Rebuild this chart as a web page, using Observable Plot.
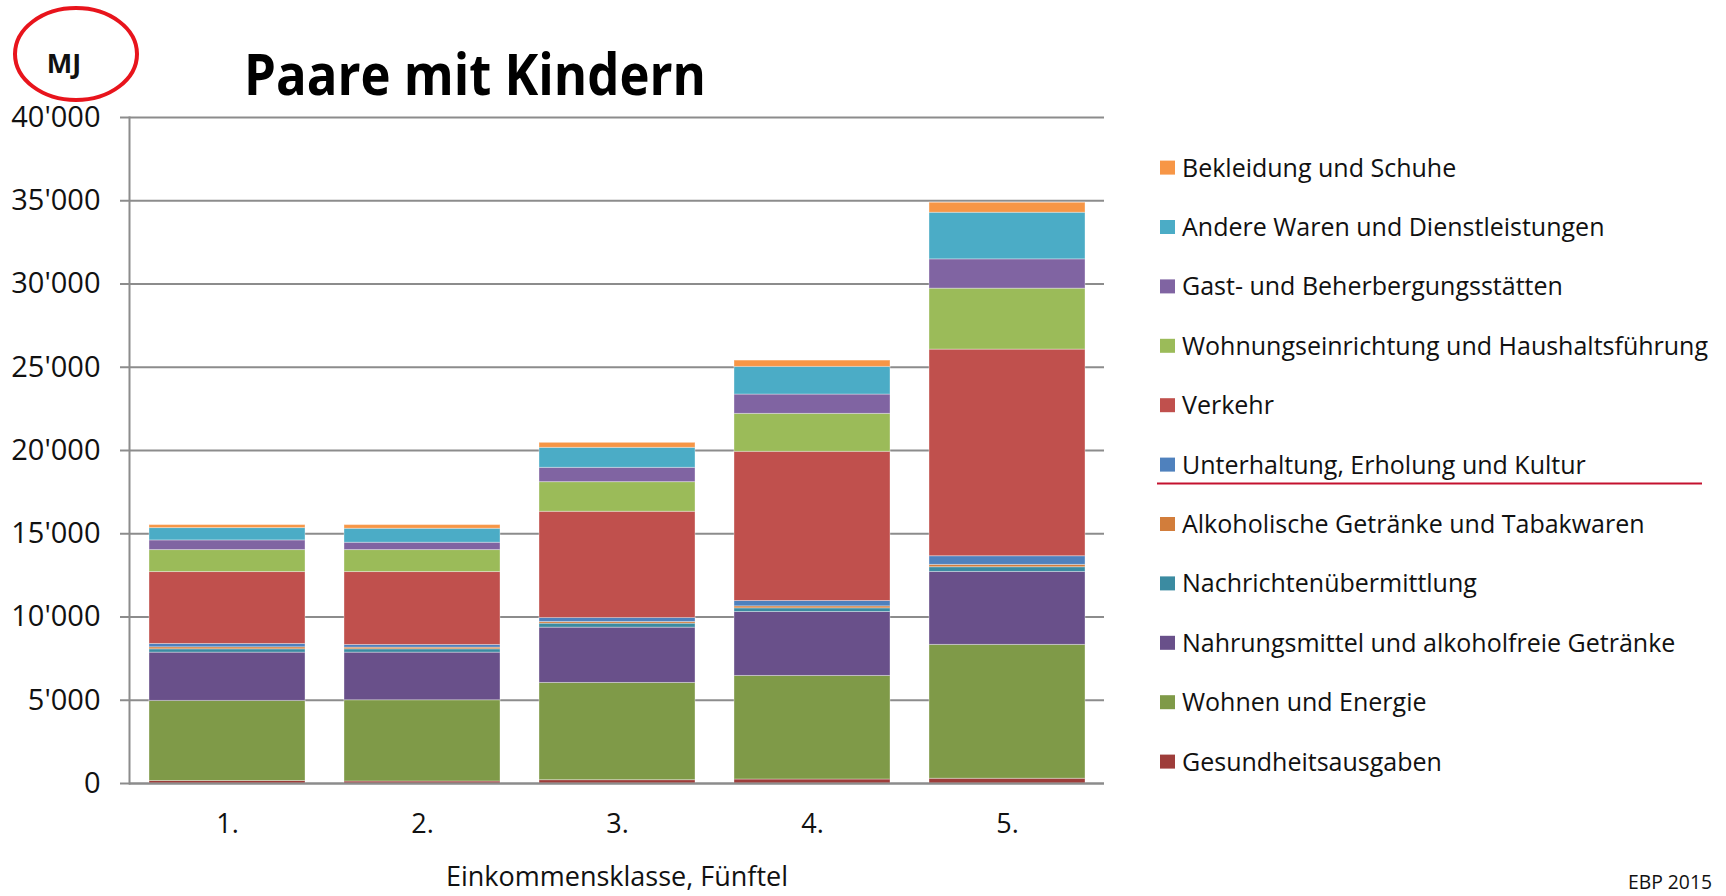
<!DOCTYPE html>
<html><head><meta charset="utf-8">
<script src="https://cdn.jsdelivr.net/npm/d3@7"></script>
<script src="https://cdn.jsdelivr.net/npm/@observablehq/plot@0.6"></script>
<style>
html,body{margin:0;padding:0;background:#fff;}
#wrap{position:relative;width:1726px;height:896px;overflow:hidden;font-family:'Open Sans',sans-serif;}
#wrap > svg{position:absolute;left:0;top:0;}
</style></head><body><div id="wrap"></div>
<script>
// Income classes (x categories)
const classes = ["1.", "2.", "3.", "4.", "5."];
// Series, bottom to top of the stack
const series = [
  "Gesundheitsausgaben",
  "Wohnen und Energie",
  "Nahrungsmittel und alkoholfreie Getränke",
  "Nachrichtenübermittlung",
  "Alkoholische Getränke und Tabakwaren",
  "Unterhaltung, Erholung und Kultur",
  "Verkehr",
  "Wohnungseinrichtung und Haushaltsführung",
  "Gast- und Beherbergungsstätten",
  "Andere Waren und Dienstleistungen",
  "Bekleidung und Schuhe"
];
const colors = ["#9e3d3a", "#7f9a48", "#69508a", "#3b8ba1", "#d27d3b", "#4f81bd", "#c0504d", "#9bbb59", "#8064a2", "#4bacc6", "#f79646"];
// Values in MJ per class
const gesundheit   = [150, 120, 200, 240, 285];
const wohnen       = [4810, 4880, 5840, 6220, 8040];
const nahrung      = [2900, 2860, 3320, 3840, 4380];
const nachrichten  = [200, 200, 240, 220, 285];
const alkohol      = [120, 100, 100, 120, 140];
const unterhaltung = [200, 160, 240, 320, 520];
const verkehr      = [4320, 4380, 6380, 8960, 12410];
const einrichtung  = [1320, 1320, 1780, 2280, 3660];
const gast         = [580, 440, 860, 1160, 1760];
const andere       = [740, 840, 1200, 1660, 2800];
const bekleidung   = [180, 220, 300, 380, 600];
const values = [gesundheit, wohnen, nahrung, nachrichten, alkohol, unterhaltung, verkehr, einrichtung, gast, andere, bekleidung];
const yTicks = [0, 5000, 10000, 15000, 20000, 25000, 30000, 35000, 40000];
const titleText = "Paare mit Kindern";
const xLabel = "Einkommensklasse, Fünftel";
const unitText = "MJ";
const sourceText = "EBP 2015";

const fmt = d3.formatLocale({decimal: ".", thousands: "'", grouping: [3], currency: ["", ""]}).format(",");
const data = series.flatMap((s, i) => classes.map((c, j) => ({cls: c, series: s, value: values[i][j]})));

const chart = Plot.plot({
  width: 1726, height: 896,
  marginLeft: 129, marginRight: 622, marginTop: 117, marginBottom: 113,
  style: {fontFamily: "'Open Sans', sans-serif", color: "#111", background: "transparent", overflow: "visible"},
  x: {domain: classes, paddingInner: 0.2, paddingOuter: 0.1},
  y: {domain: [0, 40000]},
  color: {domain: series, range: colors},
  marks: [
    Plot.gridY(yTicks, {stroke: "#8c8c8c", strokeOpacity: 1, strokeWidth: 2}),
    Plot.barY(data, {x: "cls", y: "value", fill: "series", stroke: "#fff", strokeOpacity: 0.35, strokeWidth: 1}),
    Plot.ruleY([0], {stroke: "#8c8c8c", strokeWidth: 2}),
    Plot.frame({anchor: "left", stroke: "#8c8c8c", strokeWidth: 2}),
    Plot.axisY(yTicks, {tickSize: 9, tickPadding: 20, tickFormat: fmt, fontSize: 29, stroke: "#8c8c8c", strokeWidth: 2, label: null}),
    Plot.axisX({tickSize: 0, tickPadding: 30, fontSize: 27, label: xLabel, labelAnchor: "center", labelArrow: "none", labelOffset: 102})
  ]
});
document.getElementById("wrap").appendChild(chart);

// Overlay: title, unit badge, legend, source
const ov = d3.select("#wrap").append("svg")
  .attr("width", 1726).attr("height", 896)
  .style("font-family", "'Open Sans', sans-serif")
  .style("pointer-events", "none");

ov.append("ellipse").attr("cx", 76).attr("cy", 54).attr("rx", 61).attr("ry", 46)
  .attr("fill", "none").attr("stroke", "#e8141c").attr("stroke-width", 4);
ov.append("text").attr("x", 64).attr("y", 62).attr("text-anchor", "middle")
  .attr("dominant-baseline", "central")
  .attr("font-size", 27).attr("font-weight", "bold").attr("fill", "#111").text(unitText);

ov.append("text").attr("x", 244).attr("y", 95).attr("font-size", 57).attr("font-weight", "bold")
  .attr("fill", "#000").attr("textLength", 462).attr("lengthAdjust", "spacingAndGlyphs").text(titleText);

const legendSeries = series.slice().reverse();
const legendColors = colors.slice().reverse();
const lg = ov.append("g");
legendSeries.forEach((s, i) => {
  const cy = 167.6 + i * 59.4;
  lg.append("rect").attr("x", 1160).attr("y", cy - 7).attr("width", 15).attr("height", 14).attr("fill", legendColors[i]);
  lg.append("text").attr("x", 1182).attr("y", cy + 9).attr("font-size", 25).attr("fill", "#111").text(s);
});
// red underline under "Unterhaltung, Erholung und Kultur"
const uIdx = legendSeries.indexOf("Unterhaltung, Erholung und Kultur");
lg.append("line").attr("x1", 1157).attr("x2", 1702)
  .attr("y1", 167.6 + uIdx * 59.4 + 19).attr("y2", 167.6 + uIdx * 59.4 + 19)
  .attr("stroke", "#c4122f").attr("stroke-width", 2);

ov.append("text").attr("x", 1712).attr("y", 889).attr("text-anchor", "end").attr("font-size", 20)
  .attr("fill", "#111").attr("textLength", 84).attr("lengthAdjust", "spacingAndGlyphs").text(sourceText);
</script></body></html>
